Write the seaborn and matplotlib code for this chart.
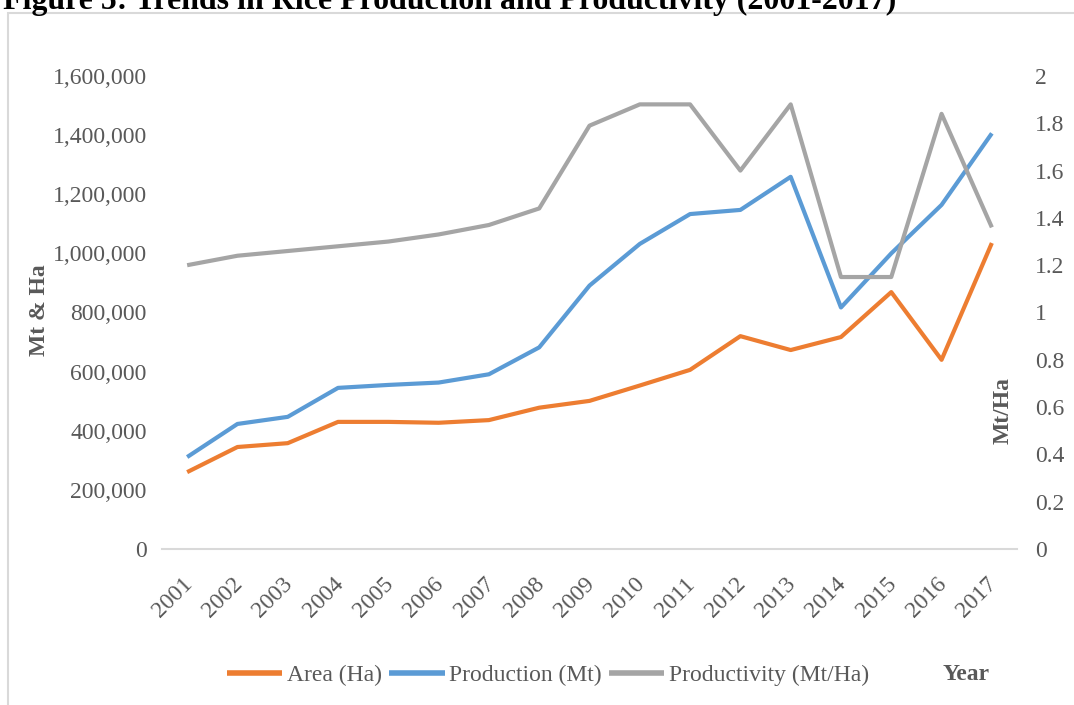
import numpy as np
import pandas as pd
import matplotlib
matplotlib.use("Agg")
import matplotlib.pyplot as plt
import matplotlib.transforms as mtransforms
from matplotlib.patches import Rectangle
from matplotlib.ticker import FuncFormatter, MultipleLocator
import seaborn as sns

# ---- data ----
years = ["2001", "2002", "2003", "2004", "2005", "2006", "2007", "2008", "2009",
         "2010", "2011", "2012", "2013", "2014", "2015", "2016", "2017"]
area_ha = [260000, 345000, 358000, 430000, 430000, 427000, 436000, 478000, 501000,
           553000, 606000, 720000, 673000, 717000, 869000, 640000, 1035000]
production_mt = [311000, 423000, 447000, 545000, 555000, 563000, 591000, 682000, 891000,
                 1032000, 1133000, 1147000, 1259000, 817000, 1000000, 1164000, 1406000]
productivity = [1.20, 1.24, 1.26, 1.28, 1.30, 1.33, 1.37, 1.44, 1.79,
                1.88, 1.88, 1.60, 1.88, 1.15, 1.15, 1.84, 1.36]

series_names = ["Area (Ha)", "Production (Mt)", "Productivity (Mt/Ha)"]
title_text = "Figure 5: Trends in Rice Production and Productivity (2001-2017)"

# ---- style ----
sns.set_theme(style="white")
plt.rcParams["font.family"] = ["Liberation Serif", "DejaVu Serif"]

ORANGE = "#ED7D31"
BLUE = "#5B9BD5"
GREY = "#A5A5A5"
TXT = "#595959"
RULE = "#D9D9D9"
FS = 17

W, H = 1074, 705
fig = plt.figure(figsize=(W / 100, H / 100), dpi=100)
fig.patch.set_facecolor("white")

df = pd.DataFrame({
    "pos": np.arange(len(years)),
    "area": area_ha,
    "prod": production_mt,
    "yield": productivity,
})

# plot area in pixel terms
L, R, T, B = 162, 1017, 76, 549
ax = fig.add_axes([L / W, 1 - B / H, (R - L) / W, (B - T) / H])
ax2 = ax.twinx()

lw = 3.0
sns.lineplot(data=df, x="pos", y="area", ax=ax, color=ORANGE, linewidth=lw,
             label=series_names[0], solid_capstyle="butt")
sns.lineplot(data=df, x="pos", y="prod", ax=ax, color=BLUE, linewidth=lw,
             label=series_names[1], solid_capstyle="butt")
sns.lineplot(data=df, x="pos", y="yield", ax=ax2, color=GREY, linewidth=lw,
             label=series_names[2], solid_capstyle="butt")

# axes limits / ticks
ax.set_xlim(-0.5, len(years) - 0.5)
ax.set_ylim(0, 1600000)
ax2.set_ylim(0, 2)
ax.yaxis.set_major_locator(MultipleLocator(200000))
ax2.yaxis.set_major_locator(MultipleLocator(0.2))
ax.yaxis.set_major_formatter(FuncFormatter(lambda v, p: f"{v:,.0f}"))
ax2.yaxis.set_major_formatter(
    FuncFormatter(lambda v, p: f"{v:.1f}".rstrip("0").rstrip(".") if v else "0"))

ax.set_xticks(df["pos"])
ax.set_xticklabels(years)

for a in (ax, ax2):
    for s in a.spines.values():
        s.set_visible(False)
    a.grid(False)
    a.set_facecolor("none")
ax.spines["bottom"].set_visible(True)
ax.spines["bottom"].set_color(RULE)
ax.spines["bottom"].set_linewidth(1.5)

ax.tick_params(axis="y", length=0, pad=11, labelsize=FS, labelcolor=TXT)
ax2.tick_params(axis="y", length=0, pad=13, labelsize=FS, labelcolor=TXT)
ax.tick_params(axis="x", length=0, pad=23, labelsize=FS, labelcolor=TXT)

shift = mtransforms.ScaledTranslation(2 / 100, 0, fig.dpi_scale_trans)
for lab in ax.get_xticklabels():
    lab.set_rotation(45)
    lab.set_ha("right")
    lab.set_va("center")
    lab.set_rotation_mode("anchor")
    lab.set_transform(lab.get_transform() + shift)

# axis titles
ax.set_xlabel("")
ax.set_ylabel("Mt & Ha", fontsize=FS, fontweight="bold", color=TXT,
              va="center", ha="center")
ax.yaxis.set_label_coords((40 - L) / (R - L), (B - 310) / (B - T))
ax2.set_ylabel("Mt/Ha", fontsize=FS, fontweight="bold", color=TXT, rotation=90,
               va="center", ha="center")
ax2.yaxis.set_label_coords((1003 - L) / (R - L), (B - 410) / (B - T))

# productivity drawn above the other series
ax2.set_zorder(ax.get_zorder() + 1)

# shared legend at the bottom
h1, l1 = ax.get_legend_handles_labels()
h2, l2 = ax2.get_legend_handles_labels()
for a in (ax, ax2):
    if a.get_legend() is not None:
        a.get_legend().remove()
leg = fig.legend(h1 + h2, l1 + l2, loc="center", ncol=3,
                 bbox_to_anchor=(548 / W, 1 - 675 / H), frameon=False,
                 fontsize=FS, handlelength=2.35, handletextpad=0.2,
                 columnspacing=0.3, borderpad=0)
for t in leg.get_texts():
    t.set_color(TXT)
for line in leg.get_lines():
    line.set_linewidth(4)

fig.text(966 / W, 1 - 675 / H, "Year", fontsize=FS, fontweight="bold",
         color=TXT, ha="center", va="center")

# chart border
fig.patches.append(Rectangle((8 / W, -0.02), 1.1, 1 - 13 / H + 0.02,
                             transform=fig.transFigure, fill=False,
                             edgecolor=RULE, linewidth=1.5))

# caption above the chart, sized to span its measured width
title = fig.text(3 / W, 1 - 9 / H, title_text, fontsize=20, fontweight="bold",
                 color="black", ha="left", va="baseline")
renderer = fig.canvas.get_renderer()
w_px = title.get_window_extent(renderer).width
title.set_fontsize(20 * 894 / w_px)

fig.savefig("out.png", dpi=100, facecolor="white")
